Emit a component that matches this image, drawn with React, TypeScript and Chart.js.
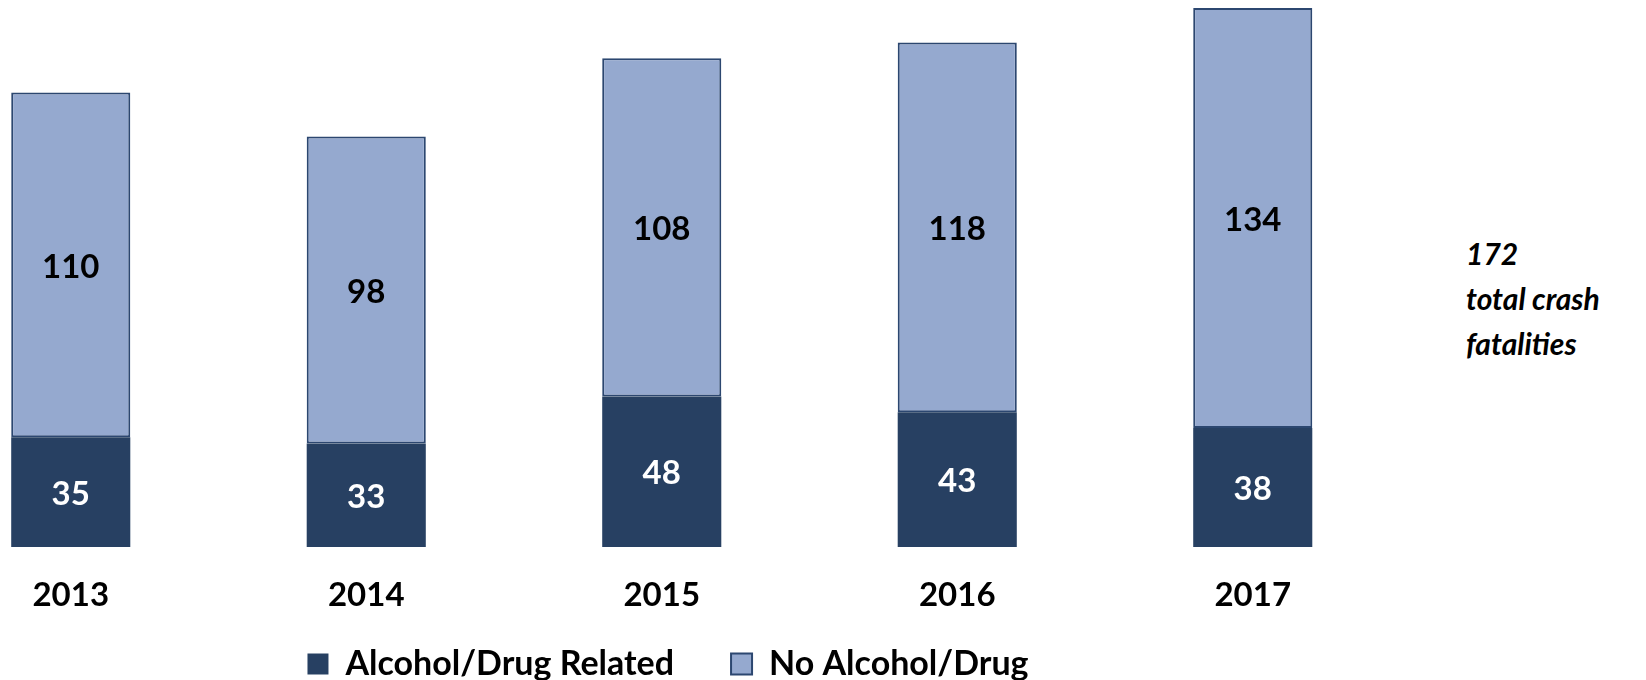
import React, { useEffect, useRef } from "react";
import { Chart, registerables } from "chart.js";

Chart.register(...registerables);

const years = ["2013", "2014", "2015", "2016", "2017"];
const alcoholDrugRelated = [35, 33, 48, 43, 38];
const noAlcoholDrug = [110, 98, 108, 118, 134];
const seriesNames = ["Alcohol/Drug Related", "No Alcohol/Drug"];
const axisMax = 172;
const noteLines = ["172", "total crash", "fatalities"];

const FONT = "Lato, 'Open Sans', sans-serif";
const DARK = "#274062";
const LIGHT = "#95A9CF";
const LIGHT_BORDER = "#2C4770";

const valueLabels = {
  id: "valueLabels",
  afterDatasetsDraw(chart: any) {
    const ctx = chart.ctx;
    ctx.save();
    ctx.font = `bold 33px ${FONT}`;
    ctx.textAlign = "center";
    ctx.textBaseline = "middle";
    chart.data.datasets.forEach((ds: any, di: number) => {
      const meta = chart.getDatasetMeta(di);
      meta.data.forEach((el: any, i: number) => {
        const p = el.getProps(["x", "y", "base"], true);
        ctx.fillStyle = di === 0 ? "#ffffff" : "#000000";
        ctx.fillText(String(ds.data[i]), p.x, (p.y + p.base) / 2 + 2);
      });
    });
    ctx.restore();
  },
};

export default function App() {
  const ref = useRef<HTMLCanvasElement | null>(null);

  useEffect(() => {
    if (!ref.current) return;
    const chart = new Chart(ref.current, {
      type: "bar",
      data: {
        labels: years,
        datasets: [
          {
            label: seriesNames[0],
            data: alcoholDrugRelated,
            backgroundColor: DARK,
            borderColor: DARK,
            borderWidth: 0,
            stack: "s",
            barPercentage: 0.403,
            categoryPercentage: 1,
          },
          {
            label: seriesNames[1],
            data: noAlcoholDrug,
            backgroundColor: LIGHT,
            borderColor: LIGHT_BORDER,
            borderWidth: 2,
            borderSkipped: false,
            stack: "s",
            barPercentage: 0.403,
            categoryPercentage: 1,
          },
        ],
      },
      options: {
        responsive: false,
        animation: false,
        layout: { padding: { top: 8, left: 0, right: 0, bottom: 0 } },
        scales: {
          x: {
            stacked: true,
            grid: { display: false },
            border: { display: false },
            ticks: {
              color: "#000000",
              padding: 21,
              font: { family: FONT, size: 33, weight: "bold" },
            },
            afterFit: (s: any) => {
              s.height = 43;
              s._computeLabelArea = () => undefined;
            },
          },
          y: {
            stacked: true,
            position: "right",
            min: 0,
            max: axisMax,
            grid: { display: false },
            border: { display: false },
            ticks: { display: false },
            afterFit: (s: any) => {
              s.width = 12.5;
            },
          },
        },
        plugins: {
          legend: {
            position: "bottom",
            labels: {
              boxWidth: 21,
              boxHeight: 21,
              padding: 57,
              color: "#000000",
              font: { family: FONT, size: 34, weight: "bold" },
            },
          },
          tooltip: { enabled: false },
        },
      },
      plugins: [valueLabels],
    } as any);
    return () => chart.destroy();
  }, []);

  return (
    <div
      style={{
        position: "absolute",
        left: 0,
        top: 0,
        width: 1646,
        height: 680,
        overflow: "hidden",
        background: "#ffffff",
      }}
    >
      <canvas
        ref={ref}
        width={1490}
        height={691}
        style={{ position: "absolute", left: -77, top: 0, width: 1490, height: 691, display: "block" }}
      />
      <div
        style={{
          position: "absolute",
          left: 1466,
          top: 231,
          fontFamily: FONT,
          fontWeight: "bold",
          fontStyle: "italic",
          fontSize: 30,
          lineHeight: "45px",
          color: "#000000",
          whiteSpace: "nowrap",
        }}
      >
        {noteLines.map((t) => (
          <div key={t}>{t}</div>
        ))}
      </div>
    </div>
  );
}
